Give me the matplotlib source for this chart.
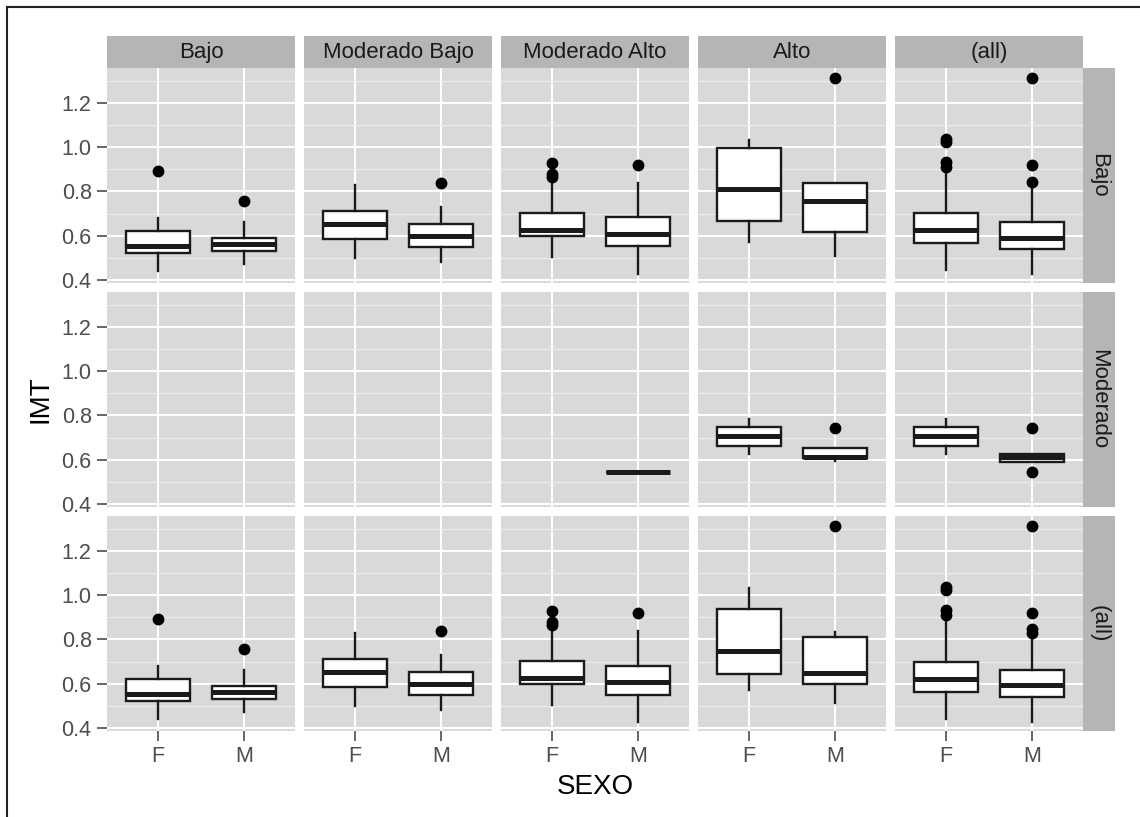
import matplotlib
matplotlib.use('Agg')
import matplotlib.pyplot as plt
from matplotlib.lines import Line2D

plt.rcParams['font.family'] = ['Liberation Sans', 'DejaVu Sans']

# facetas
filas = ['Bajo', 'Moderado', '(all)']
columnas = ['Bajo', 'Moderado Bajo', 'Moderado Alto', 'Alto', '(all)']
sexo = ['F', 'M']

# estadisticos: [fila][columna] -> (F, M), None = sin datos
bigote_inf = [
    [(0.440, 0.470), (0.499, 0.480), (0.503, 0.425), (0.571, 0.509), (0.443, 0.425)],
    [(None, None), (None, None), (None, 0.545), (0.626, 0.592), (0.626, 0.589)],
    [(0.438, 0.470), (0.499, 0.480), (0.503, 0.428), (0.570, 0.510), (0.438, 0.426)],
]
q1 = [
    [(0.522, 0.528), (0.585, 0.547), (0.597, 0.552), (0.665, 0.618), (0.567, 0.540)],
    [(None, None), (None, None), (None, 0.545), (0.663, 0.605), (0.663, 0.589)],
    [(0.522, 0.528), (0.585, 0.547), (0.597, 0.550), (0.642, 0.600), (0.564, 0.541)],
]
mediana = [
    [(0.552, 0.562), (0.653, 0.597), (0.624, 0.608), (0.810, 0.758), (0.624, 0.589)],
    [(None, None), (None, None), (None, 0.545), (0.706, 0.614), (0.706, 0.612)],
    [(0.552, 0.562), (0.653, 0.597), (0.624, 0.606), (0.748, 0.650), (0.623, 0.592)],
]
q3 = [
    [(0.623, 0.591), (0.712, 0.654), (0.702, 0.683), (0.997, 0.840), (0.702, 0.662)],
    [(None, None), (None, None), (None, 0.545), (0.746, 0.653), (0.746, 0.625)],
    [(0.623, 0.591), (0.712, 0.654), (0.702, 0.681), (0.939, 0.813), (0.700, 0.660)],
]
bigote_sup = [
    [(0.678, 0.660), (0.828, 0.728), (0.850, 0.840), (1.032, 0.840), (0.896, 0.830)],
    [(None, None), (None, None), (None, 0.545), (0.784, 0.653), (0.784, 0.625)],
    [(0.678, 0.660), (0.828, 0.728), (0.850, 0.840), (1.033, 0.836), (0.896, 0.809)],
]
atipicos = [
    [([0.891], [0.755]), ([], [0.840]), ([0.930, 0.881, 0.865], [0.922]),
     ([], [1.314]), ([1.040, 1.025, 0.933, 0.911], [1.314, 0.922, 0.842])],
    [([], []), ([], []), ([], []), ([], [0.745]), ([], [0.745, 0.544])],
    [([0.891], [0.755]), ([], [0.840]), ([0.930, 0.881, 0.865], [0.922]),
     ([], [1.314]), ([1.040, 1.025, 0.933, 0.911], [1.314, 0.919, 0.847, 0.830])],
]

W, H = 1140, 817
def caja(x0, y0, x1, y1):
    return [x0 / W, 1 - y1 / H, (x1 - x0) / W, (y1 - y0) / H]

fig = plt.figure(figsize=(W / 100, H / 100), dpi=100)
fig.patch.set_facecolor('white')

izq, paso_x, ancho = 107, 197, 188
arriba, paso_y, alto = 68, 224, 215
gris_texto = '#4d4d4d'
negro = '#1a1a1a'

for i, fila in enumerate(filas):
    for j, col in enumerate(columnas):
        x0 = izq + j * paso_x
        y0 = arriba + i * paso_y
        ax = fig.add_axes(caja(x0, y0, x0 + ancho, y0 + alto))
        ax.set_facecolor('#d9d9d9')
        stats = []
        pos = []
        for k in range(2):
            if mediana[i][j][k] is None:
                continue
            stats.append(dict(whislo=bigote_inf[i][j][k], q1=q1[i][j][k],
                              med=mediana[i][j][k], q3=q3[i][j][k],
                              whishi=bigote_sup[i][j][k], fliers=atipicos[i][j][k]))
            pos.append(k + 1)
        if stats:
            ax.bxp(stats, positions=pos, widths=0.75, showcaps=False, patch_artist=True,
                   boxprops=dict(facecolor='white', edgecolor=negro, linewidth=1.7),
                   medianprops=dict(color=negro, linewidth=3.6, solid_capstyle='butt'),
                   whiskerprops=dict(color=negro, linewidth=1.7),
                   flierprops=dict(marker='o', markerfacecolor='black',
                                   markeredgecolor='black', markersize=7.5))
        ax.set_xlim(0.4, 2.6)
        ax.set_ylim(0.385, 1.36)
        ax.set_xticks([1, 2])
        ax.set_xticklabels(sexo)
        ax.set_yticks([0.4, 0.6, 0.8, 1.0, 1.2])
        ax.set_yticklabels(['0.4', '0.6', '0.8', '1.0', '1.2'])
        ax.set_yticks([0.5, 0.7, 0.9, 1.1, 1.3], minor=True)
        ax.grid(True, which='major', color='white', linewidth=1.5)
        ax.grid(True, which='minor', axis='y', color='#ececec', linewidth=0.8)
        ax.set_axisbelow(True)
        for s in ax.spines.values():
            s.set_visible(False)
        ax.tick_params(which='minor', length=0)
        ax.tick_params(which='major', length=7, width=1.2, color=gris_texto,
                       labelcolor=gris_texto, labelsize=15.5, pad=4)
        if j != 0:
            ax.tick_params(axis='y', length=0, labelleft=False)
        if i != len(filas) - 1:
            ax.tick_params(axis='x', length=0, labelbottom=False)

        # tiras superiores
        if i == 0:
            st = fig.add_axes(caja(x0, 36, x0 + ancho, 68))
            st.set_facecolor('#b5b5b5')
            st.set_xticks([])
            st.set_yticks([])
            for s in st.spines.values():
                s.set_visible(False)
            st.text(0.5, 0.47, col, ha='center', va='center', fontsize=16, color=negro,
                    transform=st.transAxes)
    # tiras laterales
    y0 = arriba + i * paso_y
    sl = fig.add_axes(caja(izq + 4 * paso_x + ancho, y0, izq + 4 * paso_x + ancho + 32, y0 + alto))
    sl.set_facecolor('#b5b5b5')
    sl.set_xticks([])
    sl.set_yticks([])
    for s in sl.spines.values():
        s.set_visible(False)
    sl.text(0.5, 0.5, fila, ha='center', va='center', rotation=-90, fontsize=16,
            color=negro, transform=sl.transAxes)

fig.text(40 / W, 1 - 399 / H, 'IMT', rotation=90, ha='center', va='center', fontsize=20)
fig.text(595 / W, 1 - 787 / H, 'SEXO', ha='center', va='center', fontsize=20)

# marco
fig.add_artist(Line2D([7 / W, 1], [1 - 7 / H, 1 - 7 / H], color='#222222', linewidth=1.5))
fig.add_artist(Line2D([7 / W, 7 / W], [0, 1 - 7 / H], color='#222222', linewidth=1.5))

fig.savefig('out.png', dpi=100)
